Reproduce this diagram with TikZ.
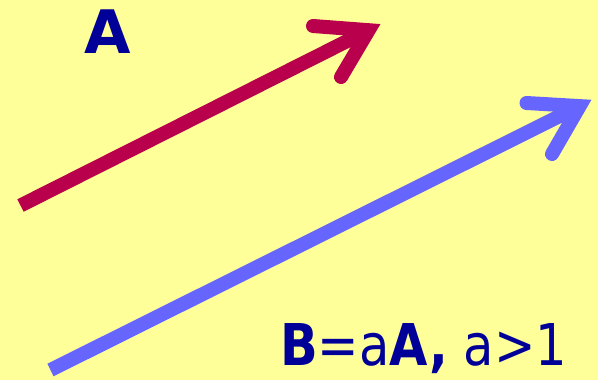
\documentclass[tikz,border=0pt]{standalone}
\usepackage{fontspec}
\setmainfont{DejaVu Sans}
\definecolor{bgyellow}{HTML}{FFFF99}
\definecolor{vecred}{HTML}{B8004C}
\definecolor{vecblue}{HTML}{6666FF}
\definecolor{txtblue}{HTML}{000099}
\begin{document}
\begin{tikzpicture}[x=1pt,y=-1pt,
  shaft/.style={line width=14pt,line cap=butt},
  barbs/.style={line width=14pt,line cap=round,line join=miter,miter limit=10},
  lbl/.style={inner sep=0pt,anchor=base west,text=txtblue}]
\fill[bgyellow] (0,0) rectangle (598,380);
\useasboundingbox (0,0) rectangle (598,380);
% red vector A
\coordinate (rs) at (20.5,205.5);
\coordinate (rv) at (368.7,30.2);
\coordinate (rb1) at (313,26);
\coordinate (rb2) at (341,77);
\draw[shaft,vecred] (rs) -- (rv);
\draw[barbs,vecred] (rb1) -- (rv) -- (rb2);
% blue vector B
\coordinate (bs) at (50.5,370);
\coordinate (bv) at (579.7,106.1);
\coordinate (bb1) at (526.5,103);
\coordinate (bb2) at (552,154);
\draw[shaft,vecblue] (bs) -- (bv);
\draw[barbs,vecblue] (bb1) -- (bv) -- (bb2);
% labels
\node[lbl] (la) at (84,53) {\fontsize{60}{60}\selectfont\bfseries A};
\node[lbl] (lb) at (280,365) {\scalebox{0.86}[1]{\fontsize{57.6}{57.6}\selectfont\textbf{B}=a\textbf{A,} a>1}};
\end{tikzpicture}
\end{document}
